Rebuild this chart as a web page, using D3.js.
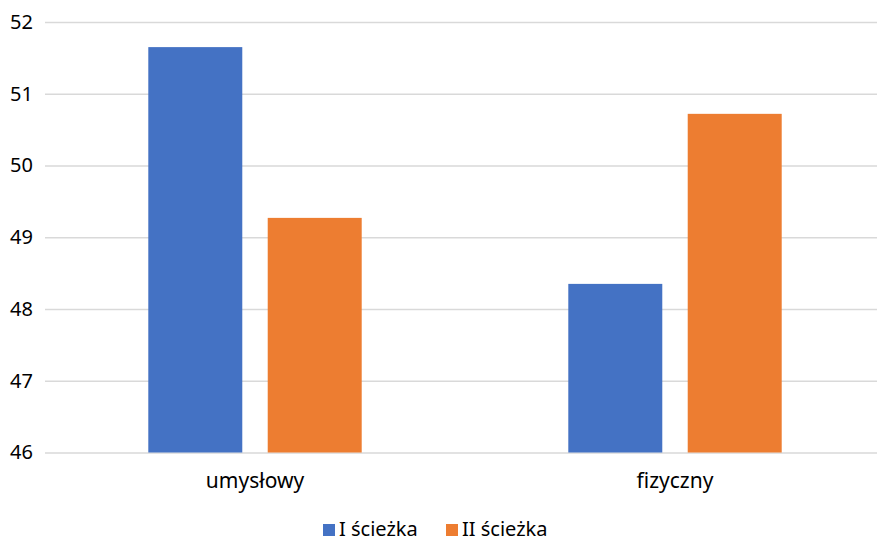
<!DOCTYPE html>
<html>
<head>
<meta charset="utf-8">
<script src="https://cdn.jsdelivr.net/npm/d3@7"></script>
<style>
  html, body { margin: 0; padding: 0; background: #fff; }
  svg { display: block; }
  text { font-family: "Noto Sans", "Open Sans", sans-serif; fill: #000; }
</style>
</head>
<body>
<svg id="chart" width="877" height="542"></svg>
<script>
// Categories, series and values
const categories = ["umysłowy", "fizyczny"];
const seriesNames = ["I ścieżka", "II ścieżka"];
const seriesI = [51.65, 48.35];
const seriesII = [49.27, 50.72];
const yTicks = [46, 47, 48, 49, 50, 51, 52];
const colors = ["#4472C4", "#ED7D31"];

const svg = d3.select("#chart");
const plot = { left: 45, right: 885, top: 22, bottom: 452.5 };

const y = d3.scaleLinear().domain([46, 52]).range([plot.bottom, plot.top]);
const x0 = d3.scaleBand().domain(categories).range([plot.left, plot.right]).padding(0);
const x1 = d3.scaleBand().domain(seriesNames).range([0, x0.bandwidth()])
  .paddingInner(0.213).paddingOuter(0.865);

// Horizontal gridlines with value labels
const yAxis = d3.axisLeft(y).tickValues(yTicks).tickFormat(d3.format("d"))
  .tickSize(-(plot.right - plot.left)).tickPadding(12);
const gy = svg.append("g").attr("transform", `translate(${plot.left},0)`).call(yAxis);
gy.select(".domain").remove();
gy.selectAll(".tick line").attr("stroke", "#d9d9d9").attr("stroke-width", 1.5);
gy.selectAll(".tick text").attr("font-size", 20).attr("fill", "#000")
  .style("font-family", '"Noto Sans", sans-serif');

// Bars
const rows = categories.map((c, i) => ({ cat: c, values: [seriesI[i], seriesII[i]] }));
const groups = svg.append("g").selectAll("g").data(rows).join("g")
  .attr("transform", d => `translate(${x0(d.cat)},0)`);
groups.selectAll("rect")
  .data(d => d.values.map((v, j) => ({ name: seriesNames[j], value: v, color: colors[j] })))
  .join("rect")
  .attr("x", d => x1(d.name))
  .attr("width", x1.bandwidth())
  .attr("y", d => y(d.value))
  .attr("height", d => y(46) - y(d.value))
  .attr("fill", d => d.color);

// Category labels
const xAxis = d3.axisBottom(x0).tickSize(0).tickPadding(21);
const gx = svg.append("g").attr("transform", `translate(0,${plot.bottom})`).call(xAxis);
gx.select(".domain").remove();
gx.selectAll(".tick text").attr("font-size", 21).attr("fill", "#000")
  .style("font-family", '"Noto Sans", sans-serif');

// Legend
const legend = svg.append("g");
const legendX = [323, 446];
seriesNames.forEach((name, i) => {
  const g = legend.append("g").attr("transform", `translate(${legendX[i]},0)`);
  g.append("rect").attr("x", 0).attr("y", 524).attr("width", 12).attr("height", 12).attr("fill", colors[i]);
  g.append("text").attr("x", 16).attr("y", 536).attr("font-size", 20).text(name);
});
</script>
</body>
</html>
